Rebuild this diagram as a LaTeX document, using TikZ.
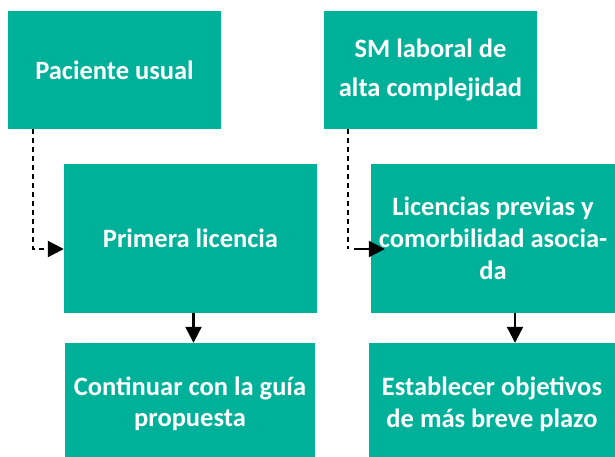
\documentclass[tikz,border=0pt]{standalone}
\usepackage{fontspec}
\setmainfont{Carlito}
\usetikzlibrary{arrows.meta}
\definecolor{teal1}{RGB}{0,177,154}
\tikzset{
  box/.style={fill=teal1, draw=none, text=white, font=\bfseries\fontsize{26.5}{33}\selectfont, align=center, inner sep=0pt},
  dashline/.style={line width=2.2pt, dash pattern=on 5pt off 4pt},
  tip/.style={-{Triangle[length=16pt,width=16pt]}, line width=2.2pt},
}
\begin{document}
\begin{tikzpicture}[x=1pt,y=-1pt]
\useasboundingbox (0,0) rectangle (615,456);
\clip (0,0) rectangle (615,456);
\node[box, minimum width=213pt, minimum height=118pt] (b1) at (114.5,70) {Paciente usual};
\node[box, minimum width=213pt, minimum height=118pt, font=\bfseries\fontsize{26.5}{39}\selectfont] (b2) at (430.5,70) {SM laboral de\\alta complejidad};
\node[box, minimum width=253pt, minimum height=149pt] (b3) at (190.5,238.5) {Primera licencia};
\node[box, minimum width=250pt, minimum height=122pt, font=\bfseries\fontsize{26.5}{31}\selectfont] (b4) at (190,404) {Continuar con la guía\\propuesta};
\node[box, minimum width=244pt, minimum height=149pt, font=\bfseries\fontsize{26.5}{32}\selectfont] (b5) at (493,238.5) {Licencias previas y\\comorbilidad asocia-\\da};
\node[box, minimum width=246pt, minimum height=122pt, font=\bfseries\fontsize{26.5}{32}\selectfont] (b6) at (492,404) {Establecer objetivos\\de más breve plazo};
\coordinate (c1) at ([xshift=25pt]b1.south west);
\coordinate (c2) at ([xshift=24.5pt]b2.south west);
\coordinate (c2b) at (c2 |- 0,249);
\draw[dashline, tip] (c1) |- ([yshift=-10.5pt]b3.west);
\draw[dashline] (c2) -- (c2b);
\draw[tip] ([xshift=6pt]c2b) -- ([xshift=14pt,yshift=-10.5pt]b5.west);
\draw[tip] ([xshift=3pt]b3.south) -- ([xshift=3pt]b3.south |- b4.north);
\draw[tip] ([xshift=22pt]b5.south) -- ([xshift=22pt]b5.south |- b6.north);
\end{tikzpicture}
\end{document}
